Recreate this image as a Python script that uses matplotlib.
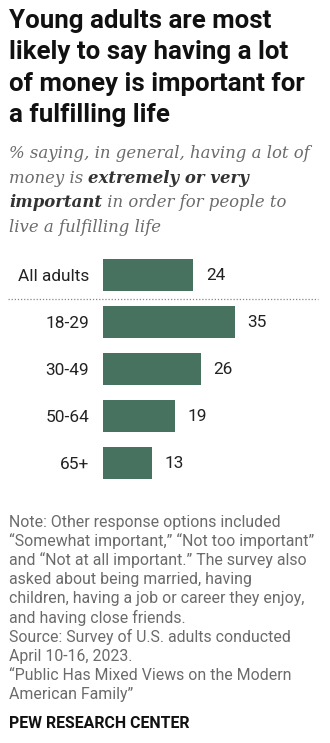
import matplotlib
matplotlib.use("Agg")
import matplotlib.pyplot as plt

groups = ["All adults", "18-29", "30-49", "50-64", "65+"]
shares = [24, 35, 26, 19, 13]

title_lines = ["Young adults are most",
               "likely to say having a lot",
               "of money is important for",
               "a fulfilling life"]

# subtitle pieces: (text, bold) per line
subtitle_lines = [
    [("% saying, in general, having a lot of", False)],
    [("money is ", False), ("extremely or very", True)],
    [("important", True), (" in order for people to", False)],
    [("live a fulfilling life", False)],
]

note_lines = [
    "Note: Other response options included",
    "\u201cSomewhat important,\u201d \u201cNot too important\u201d",
    "and \u201cNot at all important.\u201d The survey also",
    "asked about being married, having",
    "children, having a job or career they enjoy,",
    "and having close friends.",
    "Source: Survey of U.S. adults conducted",
    "April 10-16, 2023.",
    "\u201cPublic Has Mixed Views on the Modern",
    "American Family\u201d",
]

W, H = 330, 743
BAR = "#46725f"
GREY = "#6b6b6b"

fig = plt.figure(figsize=(W / 100, H / 100), dpi=100)
fig.patch.set_facecolor("white")


def fx(x):
    return x / W


def fy(y):
    return 1 - y / H


# title
for i, line in enumerate(title_lines):
    fig.text(fx(9), fy(28 + i * 31.3), line, fontsize=18.6, fontweight="bold",
             family="Roboto", color="#111111", va="baseline")

# subtitle with bold runs
renderer = fig.canvas.get_renderer()
for i, pieces in enumerate(subtitle_lines):
    x = 9
    for txt, bold in pieces:
        t = fig.text(fx(x), fy(158 + i * 24.7), txt, fontsize=11.9,
                     family="DejaVu Serif", style="italic",
                     fontweight="bold" if bold else "normal",
                     color="#333333" if bold else GREY, va="baseline")
        x += t.get_window_extent(renderer).width

# bar chart
ax = fig.add_axes([fx(103), fy(486.5), fx(226), (486.5 - 251.5) / H])
ypos = list(range(len(groups)))
ax.barh(ypos, shares, height=0.7, color=BAR)
ax.set_xlim(0, 60)
ax.set_ylim(len(groups) - 0.5, -0.5)
for y, v in zip(ypos, shares):
    ax.text(v + 3.4, y, str(v), va="center", ha="left", fontsize=12.4,
            family="Roboto", color="#222222")
ax.set_yticks(ypos)
ax.set_yticklabels(groups, fontsize=12.4, family="Roboto", color="#222222")
ax.tick_params(axis="y", length=0, pad=10)
ax.set_xticks([])
for s in ax.spines.values():
    s.set_visible(False)
ax.axhline(0.5, xmin=-95 / 226, xmax=215 / 226, color="#888888",
           linestyle=(0, (1, 1.5)), linewidth=0.9, clip_on=False)

# notes
for i, line in enumerate(note_lines):
    fig.text(fx(9), fy(527 + i * 19.1), line, fontsize=11.4, family="Roboto",
             color=GREY, va="baseline")

fig.text(fx(9), fy(728), "PEW RESEARCH CENTER", fontsize=11.4, fontweight="bold",
         family="Roboto", color="#111111", va="baseline")

fig.savefig("out.png", dpi=100)
